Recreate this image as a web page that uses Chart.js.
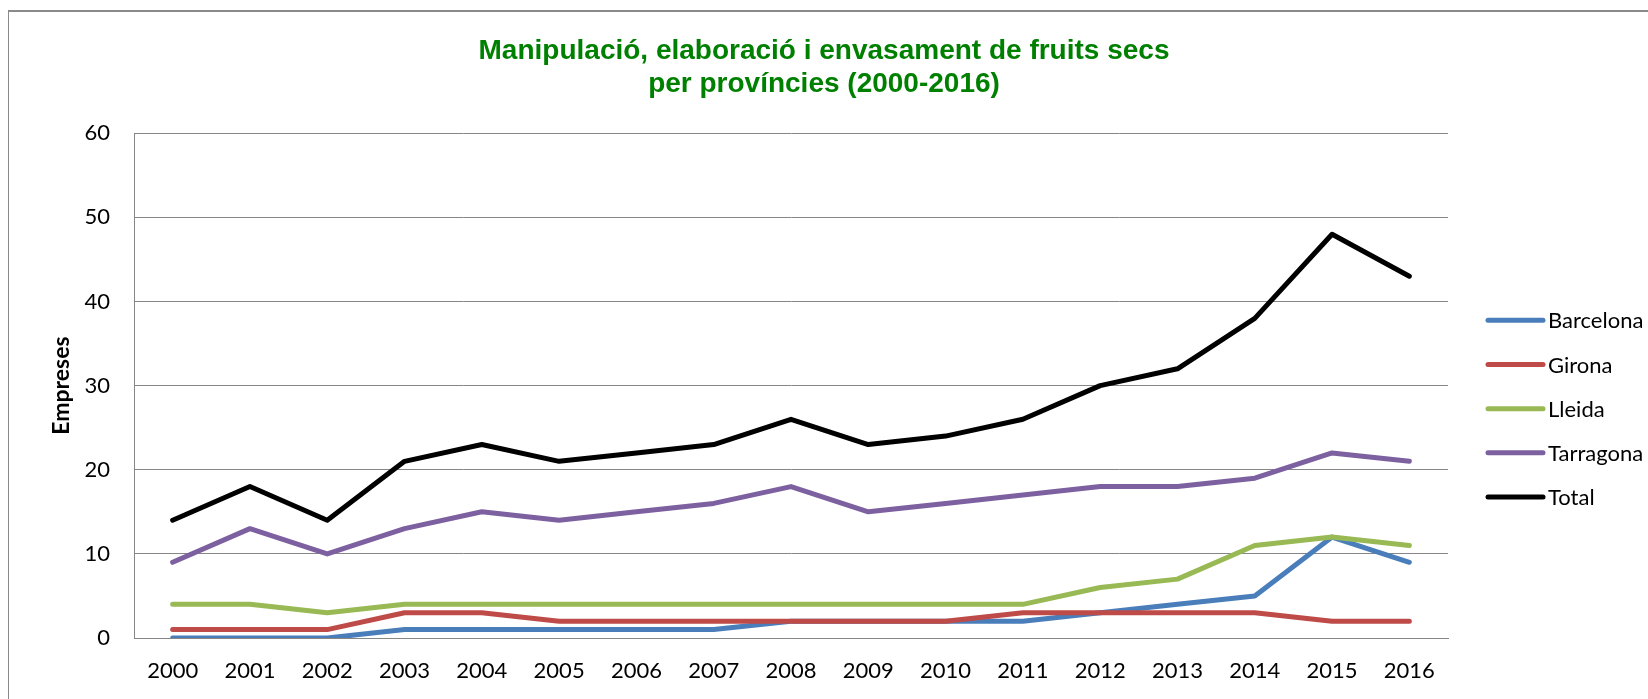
<!DOCTYPE html>
<html lang="ca">
<head>
<meta charset="UTF-8">
<script src="https://cdn.jsdelivr.net/npm/chart.js"></script>
<title>Fruits secs</title>
<style>
    html, body { margin: 0; padding: 0; background: #fff; overflow: hidden; }
    .marc { position: absolute; left: 8px; top: 10px; width: 1700px; height: 760px;
            border-top: 2px solid #8a8a8a; border-left: 1px solid #8a8a8a; }
    .chart-area { position: absolute; left: 0; top: 0; width: 1648px; height: 699px; }
</style>
</head>
<body>
<div class="marc"></div>
<div class="chart-area"><canvas id="grafic" width="1648" height="699"></canvas></div>

<script>
    const anys = ['2000', '2001', '2002', '2003', '2004', '2005', '2006', '2007', '2008',
        '2009', '2010', '2011', '2012', '2013', '2014', '2015', '2016'];

    const barcelona = [0, 0, 0, 1, 1, 1, 1, 1, 2, 2, 2, 2, 3, 4, 5, 12, 9];
    const girona = [1, 1, 1, 3, 3, 2, 2, 2, 2, 2, 2, 3, 3, 3, 3, 2, 2];
    const lleida = [4, 4, 3, 4, 4, 4, 4, 4, 4, 4, 4, 4, 6, 7, 11, 12, 11];
    const tarragona = [9, 13, 10, 13, 15, 14, 15, 16, 18, 15, 16, 17, 18, 18, 19, 22, 21];
    const total = [14, 18, 14, 21, 23, 21, 22, 23, 26, 23, 24, 26, 30, 32, 38, 48, 43];

    const titol = ['Manipulació, elaboració i envasament de fruits secs', 'per províncies (2000-2016)'];

    function serie(nom, valors, color, ordre) {
        return {
            label: nom,
            data: valors,
            borderColor: color,
            backgroundColor: color,
            borderWidth: 5,
            borderCapStyle: 'round',
            borderJoinStyle: 'round',
            pointRadius: 0,
            tension: 0,
            fill: false,
            order: ordre
        };
    }

    // llegenda dibuixada a ma, a la dreta
    const llegenda = {
        id: 'llegenda',
        afterDraw(chart) {
            const ctx = chart.ctx;
            const area = chart.chartArea;
            const x0 = area.right + 40;
            ctx.save();
            ctx.font = '22px Lato';
            ctx.textBaseline = 'middle';
            chart.data.datasets.forEach((ds, i) => {
                const y = area.top + 187 + i * 44.2;
                ctx.strokeStyle = ds.borderColor;
                ctx.lineWidth = 5;
                ctx.lineCap = 'round';
                ctx.beginPath();
                ctx.moveTo(x0, y);
                ctx.lineTo(x0 + 55, y);
                ctx.stroke();
                ctx.fillStyle = '#000';
                ctx.fillText(ds.label, x0 + 60, y + 1);
            });
            ctx.restore();
        }
    };

    const ctx = document.getElementById('grafic').getContext('2d');
    new Chart(ctx, {
        type: 'line',
        data: {
            labels: anys,
            datasets: [
                serie('Barcelona', barcelona, '#4a7ebb', 5),
                serie('Girona', girona, '#be4b48', 4),
                serie('Lleida', lleida, '#98b954', 3),
                serie('Tarragona', tarragona, '#7d60a0', 2),
                serie('Total', total, '#000000', 1)
            ]
        },
        plugins: [llegenda],
        options: {
            responsive: false,
            animation: false,
            layout: { padding: 0 },
            plugins: {
                legend: { display: false },
                tooltip: { enabled: false },
                title: {
                    display: true,
                    text: titol,
                    color: '#008000',
                    font: { family: 'Liberation Sans', size: 28, weight: 'bold', lineHeight: 1.165 },
                    padding: { top: 35, bottom: 33 }
                }
            },
            scales: {
                x: {
                    offset: true,
                    afterFit: (s) => { s.height = 61; },
                    grid: { display: false, drawTicks: false },
                    border: { display: true, color: '#868686', width: 1 },
                    ticks: { color: '#000', padding: 20, maxRotation: 0, font: { family: 'Lato', size: 22 } }
                },
                y: {
                    min: 0,
                    max: 60,
                    afterFit: (s) => { s.width = 134; },
                    grid: { color: '#868686', lineWidth: 1, drawTicks: false },
                    border: { display: true, color: '#868686', width: 1 },
                    ticks: { stepSize: 10, color: '#000', padding: 24, font: { family: 'Lato', size: 22 } },
                    title: {
                        display: true,
                        text: 'Empreses',
                        color: '#000',
                        font: { family: 'Lato', size: 23, weight: 'bold' },
                        padding: { top: 48, bottom: 0 }
                    }
                },
                // espai buit a la dreta per a la llegenda
                dreta: {
                    position: 'right',
                    afterFit: (s) => { s.width = 200; },
                    grid: { display: false },
                    border: { display: false },
                    ticks: { display: false }
                }
            }
        }
    });
</script>
</body>
</html>
